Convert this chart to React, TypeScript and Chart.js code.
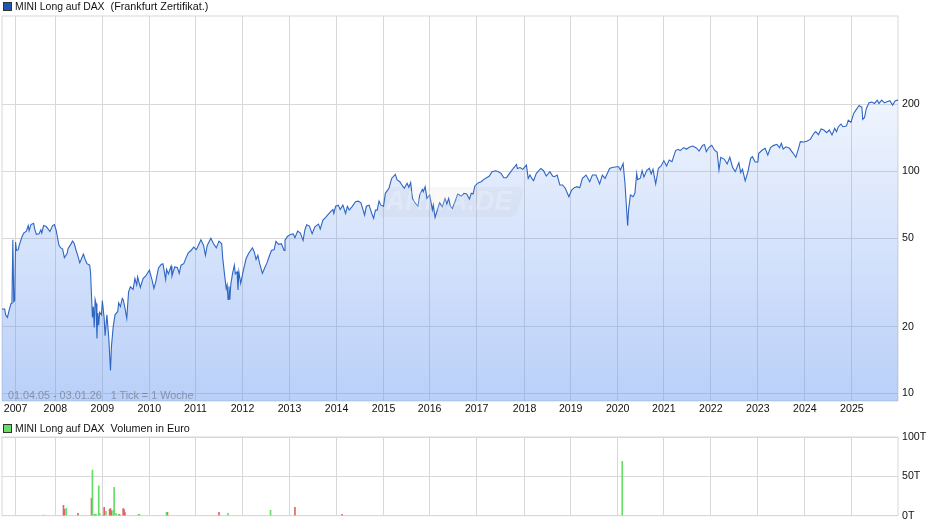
import { useEffect, useRef } from 'react';
import { Chart, registerables } from 'chart.js';

Chart.register(...registerables);

const FONT = '"Liberation Sans", Arial, sans-serif';
const GRID = '#d8d8d8';

// x axis counts weeks from the left edge of the chart
const tickWeeks = [15, 59, 111, 163, 214, 266, 318, 370, 422, 473, 525, 578, 629, 681, 732, 784, 836, 888, 940];
const tickYears = ['2007', '2008', '2009', '2010', '2011', '2012', '2013', '2014', '2015', '2016', '2017', '2018', '2019', '2020', '2021', '2022', '2023', '2024', '2025'];
const priceTicks = [10, 20, 50, 100, 200];
const volumeTicks = [0, 50, 100];

const weeks = [
  0, 3, 4, 6, 8, 10, 11, 12, 13, 14, 15,
  16, 18, 19, 22, 24, 27, 29, 30, 32, 35,
  36, 38, 41, 43, 44, 46, 49, 53, 56, 58,
  60, 63, 65, 67, 69, 72, 73, 76, 78, 80,
  82, 84, 86, 88, 90, 92, 94, 97, 98, 100,
  101, 102, 103, 104, 105, 106, 107, 108, 110, 111,
  113, 114, 116, 118, 120, 121, 123, 125, 128, 129,
  131, 133, 134, 136, 138, 140, 142, 145, 147, 149,
  150, 153, 156, 159, 163, 166, 168, 170, 173, 176,
  178, 181, 182, 184, 187, 188, 191, 194, 196, 198,
  201, 204, 206, 209, 212, 215, 218, 220, 223, 225,
  227, 231, 234, 237, 240, 243, 244, 246, 248, 249,
  250, 251, 252, 253, 255, 257, 258, 260, 261, 262,
  264, 267, 270, 273, 277, 279, 281, 283, 285, 288,
  291, 293, 296, 298, 301, 303, 306, 309, 312, 313,
  316, 319, 322, 324, 327,
  330, 333, 335, 337, 340, 343, 344, 346, 350, 352,
  355, 358, 361, 364, 366, 367, 369, 372, 374, 377,
  380, 382, 384, 387, 391, 394, 397, 400, 401, 403,
  406, 409, 411, 413, 415, 417, 419, 422, 424, 428,
  431, 435, 437, 440, 443, 445, 448, 450, 452, 454,
  456, 460, 462, 465, 466, 468, 470, 473, 476, 477,
  479, 482, 484, 487, 490, 492, 494, 496, 498, 501,
  504, 508, 511, 514, 517, 519, 521, 523, 527, 530,
  533, 536, 539, 542, 546, 549, 552, 555, 558, 562,
  566, 569, 570, 573, 576, 580, 582, 584, 586, 588,
  591, 596, 599, 602, 606, 609, 611, 614, 617, 620,
  623, 627, 630, 633, 636, 639, 642, 646, 650, 653,
  657, 661, 664, 667, 672, 675, 680, 682, 684, 687,
  689, 692, 693, 695, 698, 700, 702, 703, 706,
  708, 710, 713, 716, 718, 720, 723, 726, 729, 732,
  735, 738, 741, 745, 748, 750, 754, 757, 760, 764,
  768, 771, 775, 777, 779, 782, 785, 788, 791, 793,
  795, 799, 802, 805, 808, 811, 815, 817, 819, 822,
  825, 828, 830, 833, 836, 837, 841, 844, 847, 850,
  853, 857, 860, 862, 864, 867, 871, 875, 878, 881,
  883, 887, 890, 894, 898, 900, 903, 906, 909, 912,
  915, 918, 921, 923, 925, 928, 930, 934, 936, 939,
  942, 945, 948, 951, 952, 954, 956, 959, 962, 965,
  968, 970, 973, 976, 979, 982, 985, 988, 991,
];

const prices = [
  24, 24, 22.6, 22, 23.8, 25.4, 25.7, 49.2, 25.9, 26.2, 48,
  44, 44.4, 46.4, 50.6, 52.7, 53.8, 57, 54.1, 57.6, 58.4,
  55.3, 52, 52.3, 54.5, 52.7, 57, 56.4, 53.6, 57, 57.6,
  54.1, 46.4, 45.2, 44.8, 40.9, 42.6, 44.8, 46.9, 48.5, 47.2,
  44, 41.5, 38.7, 40.5, 42.4, 40.1, 38.4, 37.8, 34.7, 22,
  24.6, 19.8, 26.5, 25.4, 17.7, 23, 20.3, 23.2, 22.6, 26.2,
  21.8, 18.2, 22.6, 18, 12.7, 16.2, 20, 22.6, 23.4, 25.6,
  24.6, 26.8, 26.5, 24.2, 21.8, 28.7, 30.2, 29.4, 32.9, 30.8,
  33.5, 30, 32.9, 33.8, 35.9, 32.4, 29.7, 31.8, 36.6, 38.1,
  38.4, 32.6, 36.2, 34.5, 37.4, 33.8, 37.1, 36.9, 34.7, 37.8,
  38.4, 41.2, 42.9, 44, 45.6, 44.4, 47.2, 49.2, 46.4, 41.9,
  46.4, 50, 47.2, 45.2, 48.5, 47.2, 41.2, 34.7, 29.7, 30.8,
  26.5, 30.4, 26.5, 30.8, 34.7, 37.8, 34.5, 35.3, 29.2, 35.3,
  31.3, 35.9, 40.5, 42.9, 45.2, 43.4, 40.1, 41.9, 38.4, 34.7,
  37.1, 38.7, 41.9, 44, 44.4, 48.4, 46.9, 47.2, 44, 49,
  51, 52, 52.3, 50.3, 53.8,
  52.7, 48.9, 54.5, 57.5, 56.7, 52.4, 53.6, 56.3, 57.9, 55,
  60.3, 62, 64.2, 66.2, 67.3, 64.6, 69.6, 70.4, 67.3, 70.4,
  64.6, 69.6, 66.9, 69.2, 72.9, 73.4, 72.1, 65.7, 63.5, 69.6,
  70.4, 64.6, 61.4, 66.9, 66.9, 73.4, 70.4, 69.6, 79.6, 83.9,
  92.9, 96.9, 91.4, 89.8, 85.9, 83.9, 88.3, 84.7, 88.9, 75.5,
  72.9, 69.6, 78.2, 83, 81, 85.3, 75.5, 78.2, 67, 70.4,
  62, 68, 72.1, 69.2, 75.5, 71.3, 75.5, 69.6, 68, 72.9,
  79, 77.4, 79.6, 79, 74.9, 79.6, 79, 85.9, 88.9, 89.8,
  92, 93.6, 95.2, 99.6, 100.6, 99.6, 97.9, 93.6, 93.6, 98.6,
  103.7, 107.3, 103, 104, 102, 106.6, 92.9, 96.2, 92.9, 90.8,
  97.9, 103, 100.6, 95.2, 99.6, 95.2, 94.6, 96.2, 86.8, 86.8,
  83.9, 76.8, 82.4, 84.4, 85.3, 84.4, 92.9, 96.2, 89.8, 96.2,
  96.2, 87.7, 96.2, 92.9, 103, 104, 104.8, 104.8, 101.3, 108.4,
  88.3, 56.9, 66.9, 78.2, 76.8, 79.6, 97.9, 91.8, 93.1,
  100.7, 94.1, 100.7, 103.2, 97.4, 102.1, 87.8, 103.2, 105.7, 111.7,
  105.7, 112.4, 110.5, 123.9, 125.6, 123.9, 127.8, 125.6, 128.2, 130,
  127.4, 123.4, 130.9, 131.8, 122.6, 128.2, 130.9, 124.7, 121.7, 101.4,
  115.6, 113.2, 107.9, 115.6, 104.3, 99.7, 109.3, 98.7, 102.1, 90.6,
  99.7, 114.4, 116.4, 110.1, 110.1, 120.5, 124.7, 126.9, 118.4, 127.8,
  130.5, 132.3, 127.8, 133.6, 126, 128.9, 126.9, 120.5, 115.6, 126.9,
  136, 135.5, 136.4, 139.2, 148.2, 150.8, 146.1, 155, 153.4, 149.2,
  153.4, 145.6, 156, 150.8, 158.7, 163.2, 158.7, 159.8, 170, 166,
  182.2, 189.9, 197.9, 193.9, 171.2, 174.8, 191.9, 203.4, 204.8, 202,
  209.1, 202, 209.1, 203.4, 205.5, 207.7, 198.6, 207.7, 209.1,
];

const upWeeks = [46, 71, 100, 102, 104, 107, 108, 115, 123, 124, 126, 129, 151, 152, 182, 250, 297, 686];
const upVolumes = [0.8, 9.2, 58, 1.7, 1.7, 38, 3, 5.5, 6.7, 36, 3, 1.7, 1.7, 1.7, 4.2, 3, 6.7, 69];
const downWeeks = [68, 69, 84, 99, 103, 112, 113, 119, 120, 121, 130, 134, 135, 136, 183, 240, 324, 376];
const downVolumes = [13, 8, 3, 22, 1.7, 0.5, 10.5, 8, 9, 6, 1.7, 9, 8, 3.8, 4.2, 4.2, 10.5, 1.7];

const framePlugin = {
  id: 'frame',
  beforeDatasetsDraw(chart: Chart) {
    const { ctx, chartArea: a } = chart;
    ctx.save();
    ctx.strokeStyle = GRID;
    ctx.lineWidth = 1;
    ctx.strokeRect(a.left, a.top, a.right - a.left, a.bottom - a.top);
    ctx.restore();
  },
};

// the faint ARIVA.DE stamp over the fill
const stampPlugin = {
  id: 'stamp',
  afterDatasetsDraw(chart: Chart) {
    const { ctx } = chart;
    ctx.save();
    ctx.fillStyle = 'rgba(90,90,90,0.045)';
    ctx.beginPath();
    ctx.moveTo(392, 187);
    ctx.lineTo(518, 187);
    ctx.quadraticCurveTo(525, 187, 523, 194);
    ctx.lineTo(518, 210);
    ctx.quadraticCurveTo(516, 217, 508, 217);
    ctx.lineTo(383, 217);
    ctx.quadraticCurveTo(376, 217, 378, 210);
    ctx.lineTo(384, 194);
    ctx.quadraticCurveTo(386, 187, 392, 187);
    ctx.fill();
    ctx.fillStyle = 'rgba(255,255,255,0.22)';
    ctx.font = `italic bold 27px ${FONT}`;
    ctx.textAlign = 'center';
    ctx.textBaseline = 'middle';
    ctx.fillText('ARIVA.DE', 449, 203);
    ctx.restore();
  },
};

function xAxis(showLabels: boolean) {
  return {
    type: 'linear' as const,
    min: 0,
    max: 991,
    offset: false,
    afterBuildTicks: (axis: any) => {
      axis.ticks = tickWeeks.map(value => ({ value }));
    },
    afterFit: (axis: any) => {
      axis.height = showLabels ? 19 : 0;
    },
    grid: { color: GRID, lineWidth: 1, drawTicks: false, offset: false },
    border: { display: false },
    ticks: {
      display: showLabels,
      autoSkip: false,
      maxRotation: 0,
      padding: 2,
      color: '#111',
      font: { family: FONT, size: 10.6 },
      callback: (value: any) => tickYears[tickWeeks.indexOf(Number(value))],
    },
  };
}

function yTicks(format: (value: any) => string) {
  return {
    padding: 4,
    color: '#111',
    font: { family: FONT, size: 10.6 },
    callback: format,
  };
}

function Legend({ top, colour, name, text }: { top: number; colour: string; name: string; text: string }) {
  return (
    <div style={{ position: 'absolute', left: 3, top, display: 'flex', alignItems: 'center', height: 12, whiteSpace: 'pre', font: `10.8px ${FONT}`, color: '#111' }}>
      <span style={{ width: 7, height: 7, background: colour, border: '1px solid #333', marginRight: 3 }} />
      <span style={{ fontSize: 10.4 }}>{name}</span>
      {text}
    </div>
  );
}

export default function App() {
  const priceRef = useRef<HTMLCanvasElement>(null);
  const volumeRef = useRef<HTMLCanvasElement>(null);

  useEffect(() => {
    if (!priceRef.current || !volumeRef.current) return;

    const priceChart = new Chart(priceRef.current, {
      type: 'line',
      data: {
        datasets: [
          {
            data: weeks.map((w, i) => ({ x: w, y: prices[i] })),
            borderColor: '#2f66c4',
            borderWidth: 1.1,
            pointRadius: 0,
            tension: 0,
            fill: 'start',
            backgroundColor: (c: any) => {
              const area = c.chart.chartArea;
              if (!area) return 'rgba(100,150,240,0.3)';
              const g = c.chart.ctx.createLinearGradient(0, 100, 0, area.bottom);
              g.addColorStop(0, 'rgba(100,150,240,0.1)');
              g.addColorStop(1, 'rgba(100,150,240,0.45)');
              return g;
            },
          },
        ],
      },
      options: {
        animation: false,
        responsive: false,
        layout: { padding: { left: 2, top: 16, right: 0, bottom: 0 } },
        plugins: { legend: { display: false }, tooltip: { enabled: false } },
        scales: {
          x: xAxis(true),
          y: {
            type: 'logarithmic',
            position: 'right',
            min: 9.25,
            max: 500,
            afterBuildTicks: (axis: any) => {
              axis.ticks = priceTicks.map(value => ({ value }));
            },
            afterFit: (axis: any) => {
              axis.width = 42;
            },
            grid: { color: GRID, lineWidth: 1, drawTicks: false },
            border: { display: false },
            ticks: yTicks(value => String(value)),
          },
        },
      },
      plugins: [framePlugin, stampPlugin],
    });

    const volumeChart = new Chart(volumeRef.current, {
      type: 'bar',
      data: {
        datasets: [
          {
            data: upWeeks.map((w, i) => ({ x: w, y: upVolumes[i] })),
            backgroundColor: '#66dd66',
            barThickness: 1,
            grouped: false,
          },
          {
            data: downWeeks.map((w, i) => ({ x: w, y: downVolumes[i] })),
            backgroundColor: '#e06464',
            barThickness: 1,
            grouped: false,
          },
        ],
      },
      options: {
        animation: false,
        responsive: false,
        layout: { padding: { left: 2, top: 17, right: 0, bottom: 10 } },
        plugins: { legend: { display: false }, tooltip: { enabled: false } },
        scales: {
          x: xAxis(false),
          y: {
            position: 'right',
            min: 0,
            max: 100,
            afterBuildTicks: (axis: any) => {
              axis.ticks = volumeTicks.map(value => ({ value }));
            },
            afterFit: (axis: any) => {
              axis.width = 42;
            },
            grid: { color: GRID, lineWidth: 1, drawTicks: false },
            border: { display: false },
            ticks: yTicks(value => `${value}T`),
          },
        },
      },
      plugins: [framePlugin],
    });

    return () => {
      priceChart.destroy();
      volumeChart.destroy();
    };
  }, []);

  return (
    <div style={{ position: 'absolute', left: 0, top: 0, width: 940, height: 526, background: '#fff', overflow: 'hidden' }}>
      <canvas ref={priceRef} width={940} height={420} style={{ position: 'absolute', left: 0, top: 0 }} />
      <canvas ref={volumeRef} width={940} height={106} style={{ position: 'absolute', left: 0, top: 420 }} />
      <Legend top={0} colour="#1a56b8" name="MINI Long auf DAX" text="  (Frankfurt Zertifikat.)" />
      <Legend top={422} colour="#66dd66" name="MINI Long auf DAX" text="  Volumen in Euro" />
      <div style={{ position: 'absolute', left: 8, top: 389, whiteSpace: 'pre', font: `10.8px ${FONT}`, color: 'rgba(70,70,70,0.45)' }}>
        01.04.05 - 03.01.26   1 Tick = 1 Woche
      </div>
    </div>
  );
}
